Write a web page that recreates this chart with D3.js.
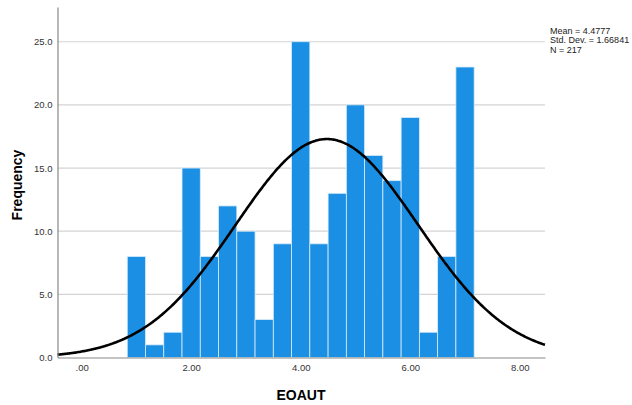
<!DOCTYPE html>
<html><head><meta charset="utf-8">
<script src="https://cdn.jsdelivr.net/npm/d3@7"></script>
<style>body{margin:0;background:#fff}svg{display:block;font-family:Arial,"Liberation Sans",sans-serif}</style>
</head><body>
<svg id="c" width="632" height="405"></svg>
<script>
const binCenters = [1,1.3333,1.6667,2,2.3333,2.6667,3,3.3333,3.6667,4,4.3333,4.6667,5,5.3333,5.6667,6,6.3333,6.6667,7];
const counts = [8,1,2,15,8,12,10,3,9,25,9,13,20,16,14,19,2,8,23];
const binWidth = 1/3;
const mean = 4.4777, sd = 1.66841, n = 217;
const xTicks = [0,2,4,6,8];
const yTicks = [0,5,10,15,20,25];
const statLines = ["Mean = 4.4777","Std. Dev. = 1.66841","N = 217"];

const svg = d3.select("#c");
const L=57.5, R=545, T=7, B=357.5;
const x = d3.scaleLinear().domain([-0.44,8.46]).range([L,R]);
const y = d3.scaleLinear().domain([0,27.75]).range([B,T]);

// gridlines
svg.append("g").selectAll("line").data(yTicks.filter(d=>d>0)).join("line")
  .attr("x1",L).attr("x2",R).attr("y1",d=>y(d)).attr("y2",d=>y(d))
  .attr("stroke","#d4d4d4").attr("stroke-width",1.2);

// bars
svg.append("g").selectAll("rect").data(counts).join("rect")
  .attr("x",(d,i)=>x(binCenters[i]-binWidth/2))
  .attr("width",(d,i)=>x(binCenters[i]+binWidth/2)-x(binCenters[i]-binWidth/2))
  .attr("y",d=>y(d)).attr("height",d=>B-y(d))
  .attr("fill","#1a8fe3").attr("stroke","#d8ecfa").attr("stroke-width",0.8);

// normal curve
const pts = d3.range(-0.44,8.461,0.02);
const scale = n*binWidth/(sd*Math.sqrt(2*Math.PI));
const line = d3.line().x(d=>x(d)).y(d=>y(scale*Math.exp(-0.5*((d-mean)/sd)**2))).curve(d3.curveBasis);
svg.append("path").datum(pts).attr("d",line).attr("fill","none").attr("stroke","#000").attr("stroke-width",2.6);

// axes
const xa = d3.axisBottom(x).tickValues(xTicks).tickFormat(d=>d===0?".00":d3.format(".2f")(d)).tickSize(0).tickPadding(7);
const gx = svg.append("g").attr("transform",`translate(0,${B})`).call(xa);
gx.select(".domain").attr("stroke","#888").attr("stroke-width",1.2);
gx.selectAll("text").attr("font-size",9.5).attr("fill","#333").attr("font-family","Arial,'Liberation Sans',sans-serif");

const ya = d3.axisLeft(y).tickValues(yTicks).tickFormat(d3.format(".1f")).tickSize(0).tickPadding(5);
const gy = svg.append("g").attr("transform",`translate(${L},0)`).call(ya);
gy.select(".domain").attr("stroke","#888").attr("stroke-width",1.2);
gy.selectAll("text").attr("font-size",9.5).attr("fill","#333").attr("font-family","Arial,'Liberation Sans',sans-serif");

// titles
svg.append("text").attr("x",301).attr("y",400).attr("text-anchor","middle")
  .attr("font-size",14).attr("font-weight","bold").text("EOAUT");
svg.append("text").attr("transform","translate(22,185) rotate(-90)").attr("text-anchor","middle")
  .attr("font-size",14).attr("font-weight","bold").text("Frequency");

// stats
svg.append("g").selectAll("text").data(statLines).join("text")
  .attr("x",550).attr("y",(d,i)=>33.5+i*9.5).attr("font-size",9).attr("fill","#222").text(d=>d);
</script>
</body></html>
